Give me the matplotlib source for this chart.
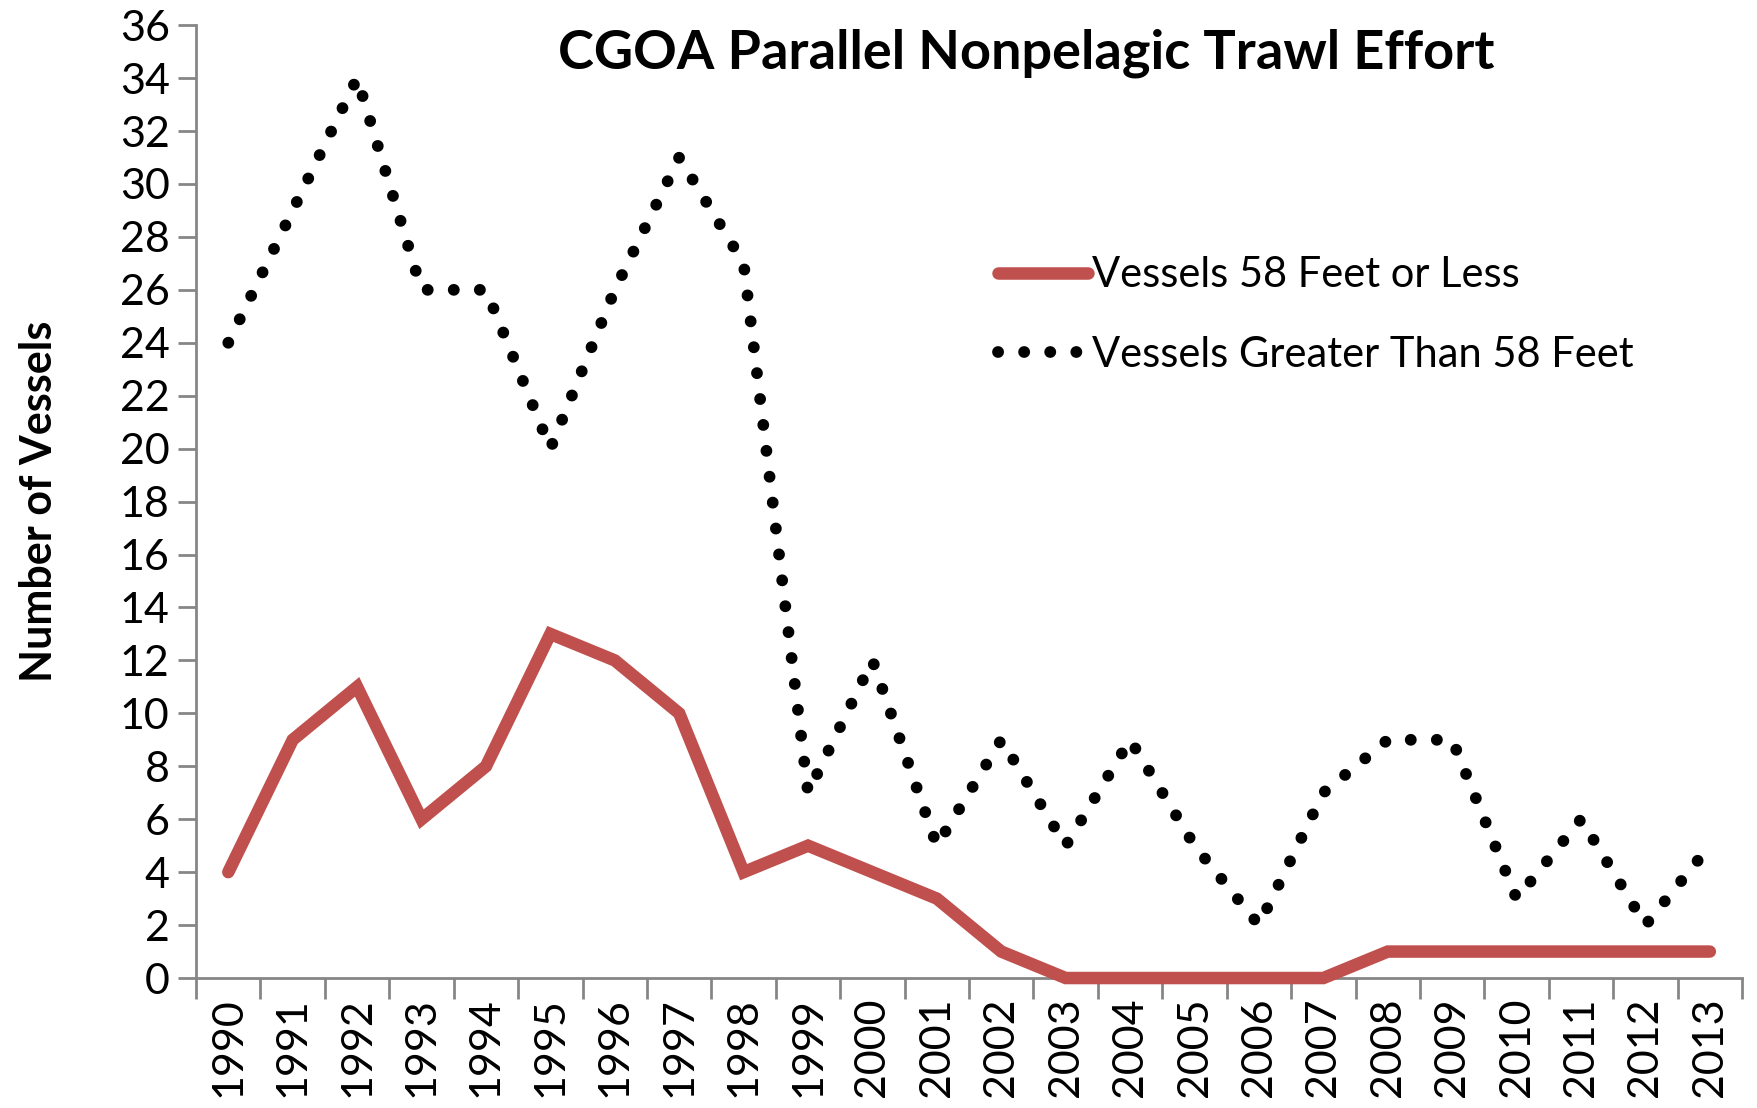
import numpy as np
import matplotlib
matplotlib.use("Agg")
import matplotlib.pyplot as plt

plt.rcParams['font.family'] = ['Lato', 'DejaVu Sans']

# ── data ────────────────────────────────────────────────────────────────────
years = [str(y) for y in range(1990, 2014)]
small_vessels = [4, 9, 11, 6, 8, 13, 12, 10, 4, 5, 4, 3,
                 1, 0, 0, 0, 0, 0, 1, 1, 1, 1, 1, 1]
large_vessels = [24, 29, 34, 26, 26, 20, 26, 31, 27, 7, 12, 5,
                 9, 5, 9, 5, 2, 7, 9, 9, 3, 6, 2, 5]
y_ticks = list(range(0, 37, 2))

RED = '#C0504D'
GREY = '#868686'
TICK_FS = 31

fig = plt.figure(figsize=(17.57, 11.08), dpi=100, facecolor='white')
ax = fig.add_axes([0.1116, 0.1173, 0.8799, 0.8600])

x = np.arange(len(years))
ax.plot(x, small_vessels, color=RED, lw=9, solid_capstyle='round',
        solid_joinstyle='miter', label='Vessels 58 Feet or Less', zorder=3)
ax.plot(x, large_vessels, color='black', lw=8.5, linestyle=(0, (0.01, 2.2)),
        dash_capstyle='round', label='Vessels Greater Than 58 Feet', zorder=3)

ax.set_xlim(-0.5, len(years) - 0.5)
ax.set_ylim(0, 36)
ax.set_yticks(y_ticks)
ax.set_yticklabels([str(v) for v in y_ticks], fontsize=TICK_FS)

# category labels centred, tick marks on the boundaries
ax.set_xticks(x)
ax.set_xticklabels(years, rotation=90, fontsize=TICK_FS)
ax.tick_params(axis='x', which='major', length=0, pad=14)
ax.set_xticks(np.arange(-0.5, len(years)), minor=True)
ax.tick_params(axis='x', which='minor', length=15, width=2, color=GREY,
               direction='out')
ax.tick_params(axis='y', length=13, width=2, color=GREY, direction='out', pad=6)

for side in ('top', 'right'):
    ax.spines[side].set_visible(False)
for side in ('left', 'bottom'):
    ax.spines[side].set_color(GREY)
    ax.spines[side].set_linewidth(2)
for ln in ax.lines:
    ln.set_clip_on(False)

ax.set_ylabel('Number of Vessels', fontsize=31, fontweight='bold', labelpad=44)

fig.text(0.584, 0.952, 'CGOA Parallel Nonpelagic Trawl Effort',
         fontsize=39, fontweight='bold', ha='center', va='center')

ax.legend(loc='upper left', bbox_to_anchor=(0.508, 0.775), frameon=False,
          fontsize=30, handlelength=2.15, handletextpad=0.1, labelspacing=1.0,
          borderaxespad=0)

fig.savefig('out.png', dpi=100, facecolor='white')
